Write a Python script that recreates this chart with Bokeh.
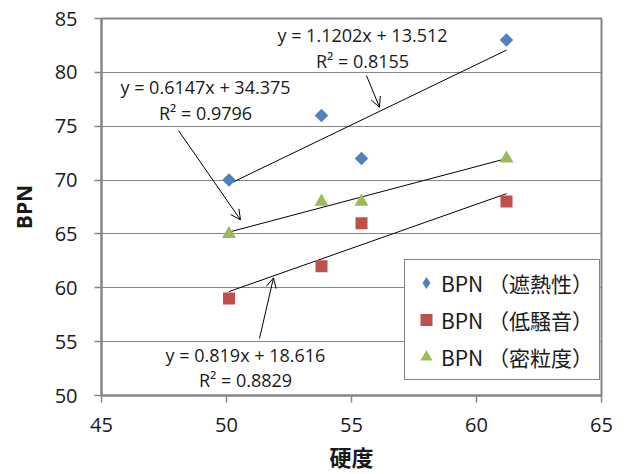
from bokeh.plotting import figure
from bokeh.models import Range1d, FixedTicker, Arrow, OpenHead, Legend, LegendItem, Label
from bokeh.embed import file_html
from bokeh.resources import INLINE

# hardness (x) and BPN values for three pavement types
hardness = [50.1, 53.8, 55.4, 61.2]
bpn_heat = [70, 76, 72, 83]
bpn_noise = [59, 62, 66, 68]
bpn_density = [65, 68, 68, 72]

# linear trend lines: slope, intercept, R²
fit_heat = (1.1202, 13.512, 0.8155)
fit_noise = (0.819, 18.616, 0.8829)
fit_density = (0.6147, 34.375, 0.9796)

x_ticks = [45, 50, 55, 60, 65]
y_ticks = [50, 55, 60, 65, 70, 75, 80, 85]
series_names = ["BPN （遮熱性）", "BPN （低騒音）", "BPN （密粒度）"]
colors = ["#4F81BD", "#C0504D", "#9BBB59"]

GRAY = "#868686"
TXT = "#1a1a1a"
LATIN = "Open Sans"
CJK = "Noto Sans CJK JP"

p = figure(width=625, height=474, output_backend="svg", toolbar_location=None,
           x_range=Range1d(45, 65), y_range=Range1d(50, 85),
           min_border_left=101, min_border_right=24, min_border_top=18, min_border_bottom=78)
p.background_fill_color = "white"
p.border_fill_color = "white"
p.outline_line_color = GRAY
p.outline_line_width = 2

p.xgrid.visible = False
p.ygrid.grid_line_color = GRAY
p.ygrid.grid_line_width = 1
p.ygrid.ticker = FixedTicker(ticks=y_ticks)

for ax, ticks in ((p.xaxis[0], x_ticks), (p.yaxis[0], y_ticks)):
    ax.ticker = FixedTicker(ticks=ticks)
    ax.axis_line_color = GRAY
    ax.axis_line_width = 2
    ax.major_tick_line_color = GRAY
    ax.major_tick_line_width = 1.5
    ax.major_tick_out = 7
    ax.major_tick_in = 0
    ax.minor_tick_line_color = None
    ax.major_label_text_font = LATIN
    ax.major_label_text_font_size = "20px"
    ax.major_label_text_color = TXT
    ax.axis_label_text_font_style = "bold"
    ax.axis_label_text_color = TXT

p.xaxis.axis_label = "硬度"
p.xaxis.axis_label_text_font = CJK
p.xaxis.axis_label_text_font_size = "22px"
p.xaxis.major_label_standoff = 15
p.xaxis.axis_label_standoff = 5

p.yaxis.axis_label = "BPN"
p.yaxis.axis_label_text_font = LATIN
p.yaxis.axis_label_text_font_size = "21px"
p.yaxis.major_label_standoff = 17
p.yaxis.axis_label_standoff = 14

# trend lines across the measured hardness range
x0, x1 = min(hardness), max(hardness)
for slope, icpt, _ in (fit_heat, fit_noise, fit_density):
    p.line([x0, x1], [slope * x0 + icpt, slope * x1 + icpt], line_color="black", line_width=1)

# diamond key for the legend (legend markers are drawn unrotated); sits under the rotated squares
key_heat = p.scatter(hardness, bpn_heat, marker="diamond", size=12,
                     fill_color=colors[0], line_color=None)
r_heat = p.scatter(hardness, bpn_heat, marker="square", size=9.5, angle=0.7854,
                   fill_color=colors[0], line_color=None)
r_noise = p.scatter(hardness, bpn_noise, marker="square", size=12,
                    fill_color=colors[1], line_color=None)
r_density = p.scatter(hardness, bpn_density, marker="triangle", size=14,
                      fill_color=colors[2], line_color=None)

# equation labels with arrows pointing at their trend lines
def eq_label(fit, x, y_top, y_bot):
    slope, icpt, r2 = fit
    for txt, yy in ((f"y = {slope}x + {icpt}", y_top), (f"R² = {r2}", y_bot)):
        p.add_layout(Label(x=x, y=yy, text=txt, text_align="center", text_baseline="middle",
                           text_font=LATIN, text_font_size="18px", text_color=TXT))

eq_label(fit_heat, 55.44, 83.43, 81.05)
eq_label(fit_density, 49.16, 78.61, 76.25)
eq_label(fit_noise, 50.76, 53.80, 51.4)

for xs, ys, xe, ye in ((55.6, 79.7, 56.12, 76.76),
                       (48.08, 74.6, 50.56, 66.3),
                       (51.32, 55.3, 51.88, 60.93)):
    p.add_layout(Arrow(end=OpenHead(size=10, line_width=1, line_color="black"),
                       x_start=xs, y_start=ys, x_end=xe, y_end=ye,
                       line_width=1, line_color="black"))

legend = Legend(items=[LegendItem(label=n, renderers=[r])
                       for n, r in zip(series_names, (key_heat, r_noise, r_density))],
                location=(303, 15), margin=0, padding=6, spacing=4,
                glyph_width=30, glyph_height=33, label_standoff=0,
                label_text_font=CJK, label_text_font_size="21px", label_text_color=TXT,
                border_line_color="black", border_line_width=1,
                background_fill_color="white", background_fill_alpha=1)
p.add_layout(legend)

open("out.html", "w").write(file_html(p, INLINE))
